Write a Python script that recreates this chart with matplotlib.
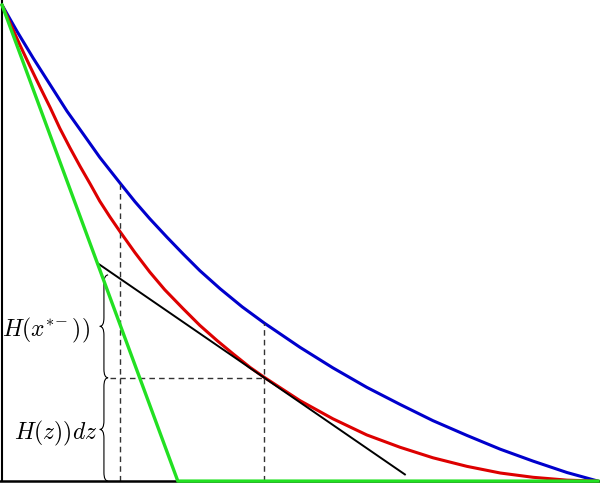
import numpy as np
import matplotlib
matplotlib.use("Agg")
import matplotlib.pyplot as plt
from matplotlib.path import Path
from matplotlib.patches import PathPatch

# curves (x and y both scaled to 0..1)
blue_x = [0.000, 0.025, 0.052, 0.081, 0.109, 0.138, 0.164, 0.198, 0.223, 0.248,
          0.277, 0.304, 0.332, 0.366, 0.403, 0.440, 0.500, 0.555, 0.612, 0.668,
          0.723, 0.780, 0.836, 0.891, 0.948, 1.000]
blue_y = [1.000, 0.945, 0.889, 0.832, 0.777, 0.726, 0.680, 0.626, 0.587, 0.551,
          0.512, 0.477, 0.442, 0.404, 0.366, 0.332, 0.281, 0.238, 0.197, 0.161,
          0.127, 0.096, 0.067, 0.042, 0.018, 0.000]

red_x = [0.000, 0.013, 0.030, 0.047, 0.064, 0.081, 0.097, 0.114, 0.131, 0.148,
         0.164, 0.181, 0.198, 0.223, 0.248, 0.273, 0.304, 0.332, 0.361, 0.388,
         0.416, 0.440, 0.500, 0.555, 0.612, 0.668, 0.723, 0.780, 0.836, 0.891,
         0.948, 1.000]
red_y = [1.000, 0.963, 0.916, 0.871, 0.827, 0.784, 0.741, 0.700, 0.661, 0.624,
         0.588, 0.555, 0.524, 0.480, 0.439, 0.402, 0.362, 0.327, 0.295, 0.267,
         0.239, 0.218, 0.169, 0.131, 0.097, 0.071, 0.049, 0.031, 0.017, 0.008,
         0.002, 0.000]

green_x = [0.000, 0.295, 1.000]
green_y = [1.000, 0.000, 0.000]

tangent_x = [0.161, 0.676]
tangent_y = [0.457, 0.014]

# guide points
x_z = 0.198        # left dashed line
x_star = 0.440     # tangent point
y_star = 0.217
blue_at_z = 0.626
blue_at_star = 0.332
brace_top = 0.433

label_top = r"$H(x^{*\!-}))$"
label_bottom = r"$H(z))dz$"

plt.rcParams['mathtext.fontset'] = 'cm'

fig = plt.figure(figsize=(6, 4.93), dpi=100)
ax = fig.add_axes([0, 0, 1, 1])
ax.set_xlim(-0.0034, 1.0034)
ax.set_ylim(-0.025, 1.0105)

curve = dict(lw=2.2, solid_capstyle="round", solid_joinstyle="round")
ax.plot(blue_x, blue_y, color="#0000cc", **curve)
ax.plot(red_x, red_y, color="#dd0000", **curve)
ax.plot(green_x, green_y, color="#22e022", lw=2.4, zorder=3)
ax.plot(tangent_x, tangent_y, color="black", lw=1.4)

dash = dict(color="#333333", lw=1.0, ls=(0, (4, 3)))
ax.plot([x_z, x_z], [0, blue_at_z], **dash)
ax.plot([x_star, x_star], [0, blue_at_star], **dash)
ax.plot([0.181, x_star], [y_star, y_star], **dash)


def brace(y0, y1, xe=0.178, xb=0.171, xt=0.164, r=0.018):
    ym = 0.5 * (y0 + y1)
    verts = [(xe, y0), (xb, y0), (xb, y0 + r),
             (xb, ym - r),
             (xb, ym), (xt, ym),
             (xb, ym), (xb, ym + r),
             (xb, y1 - r),
             (xb, y1), (xe, y1)]
    codes = [Path.MOVETO, Path.CURVE3, Path.CURVE3,
             Path.LINETO,
             Path.CURVE3, Path.CURVE3,
             Path.CURVE3, Path.CURVE3,
             Path.LINETO,
             Path.CURVE3, Path.CURVE3]
    ax.add_patch(PathPatch(Path(verts, codes), fc="none", ec="black", lw=0.8))


brace(y_star, brace_top)
brace(0.0, y_star)

ax.text(0.148, 0.317, label_top, ha="right", va="center", fontsize=17)
ax.text(0.160, 0.101, label_bottom, ha="right", va="center", fontsize=17)

for side in ["top", "right"]:
    ax.spines[side].set_visible(False)
ax.spines["left"].set_position(("data", 0))
ax.spines["bottom"].set_position(("data", 0))
ax.spines["left"].set_bounds(0, 1.0105)
ax.spines["bottom"].set_bounds(-0.0034, 1.0034)
ax.spines["left"].set_linewidth(1.5)
ax.spines["bottom"].set_linewidth(1.8)
ax.set_xticks([])
ax.set_yticks([])
ax.patch.set_alpha(0)

fig.savefig("out.png", dpi=100, transparent=True)
